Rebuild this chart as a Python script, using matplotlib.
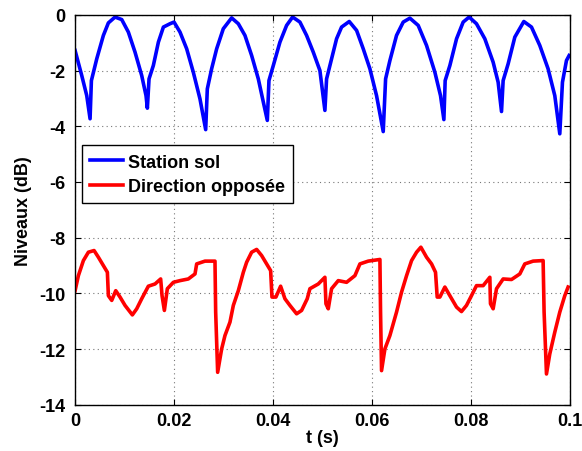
import matplotlib
matplotlib.use("Agg")
import matplotlib.pyplot as plt

plt.rcParams['font.family'] = ['Liberation Sans', 'DejaVu Sans']
plt.rcParams['font.weight'] = 'bold'
plt.rcParams['axes.unicode_minus'] = False

# blue curve: "Station sol"
t_sol = [0.0, 0.00135, 0.00236, 0.00303, 0.0033, 0.00438, 0.00572, 0.00673, 0.00808, 0.00943,
         0.01077, 0.01212, 0.01347, 0.01434, 0.01461, 0.01495, 0.01582, 0.01684, 0.01785, 0.01919,
         0.02, 0.02121, 0.02256, 0.0239, 0.02525, 0.0264, 0.02673, 0.0276, 0.02862, 0.02996,
         0.03165, 0.033, 0.03434, 0.03569, 0.03704, 0.03805, 0.03886, 0.03919, 0.04007, 0.04141,
         0.04276, 0.04397, 0.04545, 0.0468, 0.04815, 0.04949, 0.0505, 0.05084, 0.05185, 0.05286,
         0.05387, 0.05542, 0.05691, 0.05825, 0.0596, 0.06094, 0.06229, 0.06277, 0.06364, 0.06498,
         0.06633, 0.06768, 0.06936, 0.07105, 0.07273, 0.07387, 0.07455, 0.07481, 0.07576, 0.07711,
         0.07845, 0.07966, 0.08114, 0.08283, 0.08451, 0.08552, 0.0862, 0.08653, 0.08754, 0.08889,
         0.09071, 0.09226, 0.09394, 0.09562, 0.09697, 0.09798, 0.09852, 0.09933, 0.09987]
y_sol = [-1.28, -2.18, -2.90, -3.73, -2.36, -1.58, -0.74, -0.29, -0.08, -0.17,
         -0.62, -1.34, -2.18, -2.90, -3.35, -2.30, -1.82, -0.98, -0.44, -0.32,
         -0.26, -0.62, -1.22, -2.06, -3.02, -4.12, -2.66, -1.94, -1.22, -0.50,
         -0.11, -0.32, -0.74, -1.46, -2.30, -3.13, -3.79, -2.36, -1.82, -0.98,
         -0.38, -0.08, -0.26, -0.74, -1.34, -2.00, -3.43, -2.30, -1.58, -0.86,
         -0.44, -0.24, -0.56, -1.22, -1.94, -2.90, -4.19, -2.30, -1.64, -0.74,
         -0.26, -0.12, -0.38, -1.10, -2.06, -2.90, -3.76, -2.36, -1.82, -0.86,
         -0.26, -0.08, -0.32, -0.86, -1.70, -2.42, -3.47, -2.36, -1.76, -0.80,
         -0.24, -0.44, -1.10, -1.94, -2.90, -4.27, -2.42, -1.64, -1.46]

# red curve: "Direction opposée"
t_opp = [0.0, 0.00067, 0.00168, 0.00269, 0.00384, 0.00471, 0.00572, 0.00653, 0.00673, 0.00741,
         0.00822, 0.00909, 0.0101, 0.01158, 0.01246, 0.01347, 0.01481, 0.01616, 0.0173, 0.01758,
         0.01805, 0.01865, 0.01987, 0.02121, 0.02289, 0.02424, 0.02458, 0.02626, 0.02828, 0.02842,
         0.02882, 0.02963, 0.0303, 0.03131, 0.03199, 0.033, 0.03401, 0.03468, 0.03569, 0.0367,
         0.03771, 0.03872, 0.03953, 0.0398, 0.0406, 0.04155, 0.04242, 0.04343, 0.04478, 0.04579,
         0.04693, 0.04747, 0.04916, 0.0505, 0.05071, 0.05118, 0.05185, 0.0532, 0.05488, 0.05657,
         0.05758, 0.05926, 0.06162, 0.06175, 0.06195, 0.06263, 0.06364, 0.06498, 0.066, 0.06701,
         0.06802, 0.06903, 0.0699, 0.07105, 0.07206, 0.07286, 0.0732, 0.07374, 0.07475, 0.07576,
         0.07711, 0.07811, 0.07912, 0.08013, 0.08114, 0.08249, 0.08384, 0.08397, 0.08451, 0.08519,
         0.08653, 0.08822, 0.0899, 0.09091, 0.09259, 0.09461, 0.09481, 0.09529, 0.09596, 0.09697,
         0.09798, 0.09899, 0.09966]
y_opp = [-9.90, -9.36, -8.82, -8.52, -8.46, -8.70, -9.00, -9.24, -10.08, -10.25,
         -9.90, -10.13, -10.43, -10.77, -10.55, -10.19, -9.74, -9.66, -9.48, -10.08,
         -10.61, -9.83, -9.60, -9.54, -9.48, -9.30, -8.94, -8.84, -8.84, -10.67,
         -12.83, -11.99, -11.51, -11.03, -10.43, -9.90, -9.24, -8.88, -8.52, -8.42,
         -8.64, -8.94, -9.18, -10.13, -10.13, -9.74, -10.19, -10.43, -10.73, -10.61,
         -10.19, -9.83, -9.66, -9.42, -10.37, -10.55, -9.83, -9.54, -9.60, -9.36,
         -8.94, -8.84, -8.78, -10.67, -12.77, -11.99, -11.51, -10.67, -9.95, -9.36,
         -8.82, -8.52, -8.34, -8.70, -8.94, -9.24, -10.13, -10.13, -9.77, -10.08,
         -10.49, -10.65, -10.43, -10.08, -9.72, -9.72, -9.42, -10.37, -10.55, -9.83,
         -9.48, -9.50, -9.30, -8.94, -8.84, -8.82, -10.67, -12.89, -12.17, -11.39,
         -10.67, -10.08, -9.77]

xticks = [0, 0.02, 0.04, 0.06, 0.08, 0.1]
xticklabels = ["0", "0.02", "0.04", "0.06", "0.08", "0.1"]
yticks = [-14, -12, -10, -8, -6, -4, -2, 0]

fig = plt.figure(figsize=(5.82, 4.52), dpi=100)
ax = fig.add_axes([0.129, 0.102, 0.850, 0.863])

ax.plot(t_sol, y_sol, color=(0, 0, 1), lw=2.6, label="Station sol")
ax.plot(t_opp, y_opp, color=(1, 0, 0), lw=2.6, label="Direction opposée")

ax.set_xlim(0, 0.1)
ax.set_ylim(-14, 0)
ax.set_xticks(xticks)
ax.set_xticklabels(xticklabels)
ax.set_yticks(yticks)
ax.tick_params(direction='in', top=True, right=True, labelsize=13, length=4, width=0.8)
ax.tick_params(axis='y', pad=7)
ax.tick_params(axis='x', pad=5)
ax.grid(True, linestyle=(0, (1, 3)), color='#777777', linewidth=0.8)
for s in ax.spines.values():
    s.set_linewidth(1.0)

ax.set_xlabel("t (s)", fontsize=13, fontweight='bold', labelpad=0)
ax.set_ylabel("Niveaux (dB)", fontsize=13, fontweight='bold', labelpad=5)

leg = ax.legend(loc='upper left', bbox_to_anchor=(0.014, 0.665), fontsize=13,
                fancybox=False, framealpha=1, edgecolor='black', handlelength=1.8,
                borderpad=0.45, labelspacing=0.4, handletextpad=0.3, borderaxespad=0)
leg.get_frame().set_linewidth(1.0)

fig.savefig("out.png", dpi=100)
